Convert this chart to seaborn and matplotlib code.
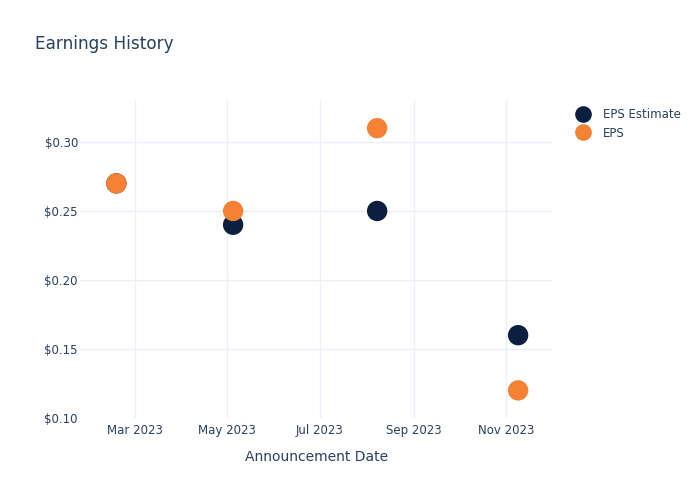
import matplotlib
matplotlib.use("Agg")
import matplotlib.pyplot as plt
import matplotlib.dates as mdates
import seaborn as sns
import pandas as pd
import numpy as np

dates = ["2023-02-17", "2023-05-05", "2023-08-08", "2023-11-09"]
eps_estimate = [0.27, 0.24, 0.25, 0.16]
eps_actual = [0.27, 0.25, 0.31, 0.12]
series_names = ["EPS Estimate", "EPS"]
colors = ["#0b1f41", "#f58134"]

df = pd.DataFrame({
    "date": pd.to_datetime(dates * 2),
    "value": eps_estimate + eps_actual,
    "series": [series_names[0]] * len(dates) + [series_names[1]] * len(dates),
})

sns.set_theme(style="white")
plt.rcParams['font.family'] = ['DejaVu Sans']
text_color = "#2a3f5f"
grid_color = "#ebf0f8"

fig = plt.figure(figsize=(7, 5), dpi=100)
ax = fig.add_axes([80/700, 82/500, (553-80)/700, (418-100)/500])

sns.scatterplot(data=df, x="date", y="value", hue="series", hue_order=series_names,
                palette=colors, s=215, linewidth=0, ax=ax, zorder=3, legend=False)

ax.set_xlim(pd.Timestamp("2023-01-24"), pd.Timestamp("2023-12-02"))
ax.set_ylim(0.1, 0.3304)
ax.set_yticks([0.10, 0.15, 0.20, 0.25, 0.30])
ax.yaxis.set_major_formatter(matplotlib.ticker.FuncFormatter(lambda v, p: f"${v:.2f}"))
ax.set_xticks(pd.to_datetime(["2023-03-01", "2023-05-01", "2023-07-01", "2023-09-01", "2023-11-01"]))
ax.xaxis.set_major_formatter(mdates.DateFormatter("%b %Y"))

ax.grid(True, color=grid_color, linewidth=1, zorder=0)
for s in ax.spines.values():
    s.set_visible(False)
ax.tick_params(axis="both", length=0, labelsize=8.5, colors=text_color)
ax.tick_params(axis="y", pad=1.5)
ax.tick_params(axis="x", pad=4)
ax.set_xlabel("Announcement Date", fontsize=10, color=text_color, labelpad=9.5)
ax.set_ylabel("")

fig.text(35/700, 1 - 44/500, "Earnings History", fontsize=12.2, color=text_color, va="center", ha="left")

# legend
from matplotlib.lines import Line2D
handles = [Line2D([0], [0], marker="o", linestyle="", markersize=12, markerfacecolor=c,
                  markeredgewidth=0) for c in colors]
leg = fig.legend(handles, series_names, loc="upper left", bbox_to_anchor=(571/700, 1 - 103/500),
                 frameon=False, fontsize=8.5, handletextpad=1.1, labelspacing=0.5,
                 handlelength=1.2, borderaxespad=0)
for t in leg.get_texts():
    t.set_color(text_color)

fig.savefig("out.png", dpi=100)
